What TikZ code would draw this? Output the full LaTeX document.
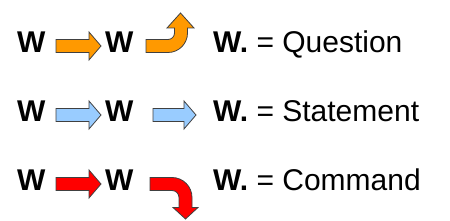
\documentclass[tikz,border=0pt]{standalone}
\usepackage{fontspec}
\setmainfont{Liberation Sans}
\definecolor{qorange}{HTML}{FF9900}
\definecolor{sblue}{HTML}{99CCFF}
\definecolor{cred}{HTML}{FF0000}

\begin{document}
\begin{tikzpicture}[x=1pt,y=1pt,
  word/.style={font=\fontsize{30}{30}\selectfont,inner sep=0pt,anchor=base west},
  blk/.style={draw=black!75,line width=0.8pt,line join=miter},
  qcol/.style={blk,fill=qorange},
  scol/.style={blk,fill=sblue},
  ccol/.style={blk,fill=cred}]
  \useasboundingbox (0,0) rectangle (450,-221);
  % question
  \begin{scope}
    \node[word] (qa) at (17,-53) {\textbf{W}};
    \draw[qcol] (56,-39.5)--(89,-39.5)--(89,-32)--(101,-46)--(89,-60)--(89,-52.5)--(56,-52.5)--cycle;
    \node[word] (qb) at (105,-53) {\textbf{W}};
    \draw[qcol] (146,-39.5)--(168,-39.5) arc[start angle=-90,end angle=0,radius=6.5pt]
      --(174.5,-28)--(167,-28)--(180.5,-13)--(194,-28)--(187.5,-28)--(187.5,-33)
      arc[start angle=0,end angle=-90,radius=19.5pt]--(146,-52.5)--cycle;
    \node[word] (qt) at (213,-53) {\textbf{W.} = Question};
  \end{scope}
  % statement
  \begin{scope}[yshift=-69pt]
    \node[word] (sa) at (17,-53) {\textbf{W}};
    \draw[scol] (56,-39.5)--(89,-39.5)--(89,-32)--(101,-46)--(89,-60)--(89,-52.5)--(56,-52.5)--cycle;
    \node[word] (sb) at (105,-53) {\textbf{W}};
    \draw[scol] (153,-39.5)--(184,-39.5)--(184,-32)--(196,-46)--(184,-60)--(184,-52.5)--(153,-52.5)--cycle;
    \node[word] (st) at (213,-53) {\textbf{W.} = Statement};
  \end{scope}
  % command
  \begin{scope}[yshift=-138pt]
    \node[word] (ca) at (17,-53) {\textbf{W}};
    \draw[ccol] (56,-39.5)--(89,-39.5)--(89,-32)--(101,-46)--(89,-60)--(89,-52.5)--(56,-52.5)--cycle;
    \node[word] (cb) at (105,-53) {\textbf{W}};
    \draw[ccol] (150,-39.5)--(172,-39.5) arc[start angle=90,end angle=0,radius=20pt]
      --(192,-69.5)--(198,-69.5)--(185.5,-81)--(173,-69.5)--(179,-69.5)--(179,-59.5)
      arc[start angle=0,end angle=90,radius=7pt]--(150,-52.5)--cycle;
    \node[word] (ct) at (213,-53) {\textbf{W.} = Command};
  \end{scope}
\end{tikzpicture}
\end{document}
